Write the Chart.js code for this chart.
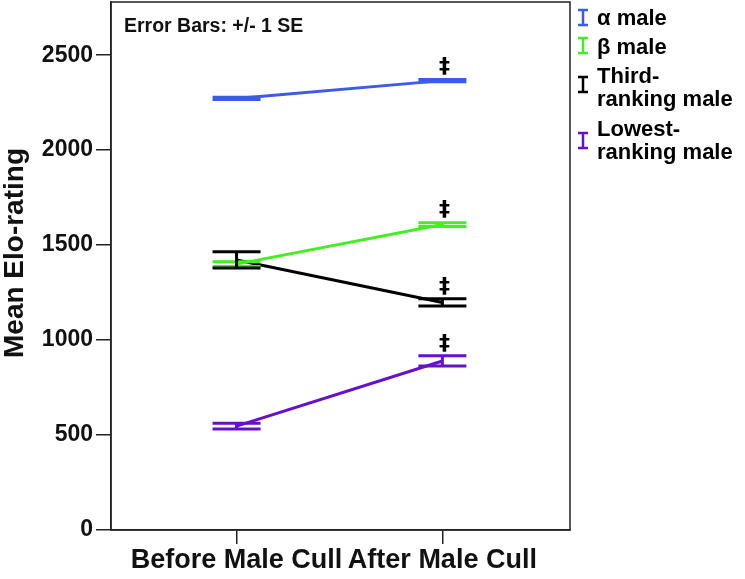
<!DOCTYPE html>
<html>
<head>
<meta charset="utf-8">
<script src="https://cdn.jsdelivr.net/npm/chart.js@4"></script>
<style>
  html, body { margin: 0; padding: 0; background: #fff; }
  #wrap { position: relative; width: 745px; height: 579px; }
</style>
</head>
<body>
<div id="wrap"><canvas id="c" width="745" height="579"></canvas></div>
<script>
// ---- data ----
const categories = ["Before Male Cull", "After Male Cull"];
const seriesNames = ["α male", "β male", "Third-ranking male", "Lowest-ranking male"];
const legendLines = [["α male"], ["β male"], ["Third-", "ranking male"], ["Lowest-", "ranking male"]];
const seriesColors = ["#3a5ce8", "#44ee22", "#000000", "#6610cc"];
const alphaMean = [2272, 2366];
const alphaSE = [6, 6];
const betaMean = [1400, 1608];
const betaSE = [12, 10];
const thirdMean = [1422, 1198];
const thirdSE = [43, 19];
const lowestMean = [547, 890];
const lowestSE = [15, 27];
const yTicks = [0, 500, 1000, 1500, 2000, 2500];
const yTitle = "Mean Elo-rating";
const sigMarks = ["‡", "‡", "‡", "‡"]; // significance marks at "After"

const means = [alphaMean, betaMean, thirdMean, lowestMean];
const ses = [alphaSE, betaSE, thirdSE, lowestSE];

const FONT = "'Liberation Sans', Arial, Helvetica, sans-serif";

const datasets = means.map((m, i) => ({
  label: seriesNames[i],
  data: m.map((v, j) => ({ x: j, y: v })),
  borderColor: seriesColors[i],
  backgroundColor: seriesColors[i],
  borderWidth: 3,
  pointRadius: 0,
  tension: 0,
  fill: false
}));

const errorBarPlugin = {
  id: 'errorBars',
  afterDatasetsDraw(chart) {
    const ctx = chart.ctx;
    const xs = chart.scales.x, ys = chart.scales.y;
    ctx.save();
    means.forEach((m, i) => {
      ctx.strokeStyle = seriesColors[i];
      ctx.lineWidth = 3;
      m.forEach((v, j) => {
        const px = xs.getPixelForValue(j);
        const top = ys.getPixelForValue(v + ses[i][j]);
        const bot = ys.getPixelForValue(v - ses[i][j]);
        const hw = 24;
        ctx.beginPath();
        ctx.moveTo(px - hw, top); ctx.lineTo(px + hw, top);
        ctx.moveTo(px - hw, bot); ctx.lineTo(px + hw, bot);
        ctx.moveTo(px, top); ctx.lineTo(px, bot);
        ctx.stroke();
      });
    });
    // significance marks
    ctx.fillStyle = '#000';
    ctx.font = "bold 22px 'DejaVu Sans', " + FONT;
    ctx.textAlign = 'center';
    ctx.textBaseline = 'bottom';
    means.forEach((m, i) => {
      const px = xs.getPixelForValue(1);
      const top = ys.getPixelForValue(m[1] + ses[i][1]);
      ctx.fillText(sigMarks[i], px + 2, top - 1);
    });
    ctx.restore();
  }
};

const framePlugin = {
  id: 'frame',
  afterDraw(chart) {
    const ctx = chart.ctx;
    const a = chart.chartArea;
    ctx.save();
    ctx.strokeStyle = '#222';
    ctx.lineWidth = 1.5;
    ctx.strokeRect(a.left, a.top, a.right - a.left, a.bottom - a.top);
    // y-axis title
    ctx.save();
    ctx.translate(15, 253);
    ctx.rotate(-Math.PI / 2);
    ctx.fillStyle = '#111';
    ctx.font = 'bold 28px ' + FONT;
    ctx.textAlign = 'center';
    ctx.textBaseline = 'middle';
    ctx.fillText(yTitle, 0, 0);
    ctx.restore();
    // annotation text
    ctx.fillStyle = '#111';
    ctx.font = 'bold 19.5px ' + FONT;
    ctx.textAlign = 'left';
    ctx.textBaseline = 'middle';
    ctx.fillText('Error Bars: +/- 1 SE', a.left + 13, 27);
    // legend
    const lx = a.right + 13;
    const textY = [19, 48, 77, 130];
    const glyphY = [17.5, 45.5, 84.5, 140.5];
    legendLines.forEach((lines, i) => {
      const g = glyphY[i];
      ctx.strokeStyle = seriesColors[i];
      ctx.lineWidth = 2.5;
      ctx.beginPath();
      ctx.moveTo(lx - 5, g - 7.5); ctx.lineTo(lx + 5, g - 7.5);
      ctx.moveTo(lx - 5, g + 7.5); ctx.lineTo(lx + 5, g + 7.5);
      ctx.moveTo(lx, g - 7.5); ctx.lineTo(lx, g + 7.5);
      ctx.stroke();
      ctx.fillStyle = '#000';
      ctx.font = 'bold 22px ' + FONT;
      ctx.textAlign = 'left';
      ctx.textBaseline = 'middle';
      lines.forEach((t, k) => ctx.fillText(t, lx + 14, textY[i] + k * 23));
    });
    ctx.restore();
  }
};

new Chart(document.getElementById('c'), {
  type: 'line',
  data: { datasets },
  plugins: [errorBarPlugin, framePlugin],
  options: {
    responsive: false,
    animation: false,
    layout: { padding: { left: 0, right: 175, top: 2, bottom: 0 } },
    plugins: { legend: { display: false }, tooltip: { enabled: false } },
    scales: {
      x: {
        type: 'linear',
        min: -0.61,
        max: 1.62,
        afterBuildTicks(s) { s.ticks = categories.map((c, i) => ({ value: i })); },
        afterFit(s) { s.height = 49; s.paddingLeft = 0; s.paddingRight = 0; },
        ticks: {
          callback: (v) => categories[v] ?? '',
          color: '#111',
          font: { family: FONT, weight: 'bold', size: 27 },
          maxRotation: 0,
          autoSkip: false,
          padding: 0
        },
        grid: { drawOnChartArea: false, tickLength: 14, color: '#222', lineWidth: 1.5 },
        border: { color: '#222', width: 1.5 }
      },
      y: {
        min: 0,
        max: 2780,
        afterBuildTicks(s) { s.ticks = yTicks.map(v => ({ value: v })); },
        afterFit(s) { s.width = 111; s.paddingTop = 0; s.paddingBottom = 0; },
        ticks: {
          callback: (v) => String(v),
          color: '#111',
          font: { family: FONT, weight: 'bold', size: 23 },
          padding: 3
        },
        title: { display: false },
        grid: { drawOnChartArea: false, tickLength: 15, color: '#222', lineWidth: 1.5 },
        border: { color: '#222', width: 1.5 }
      }
    }
  }
});
</script>
</body>
</html>
